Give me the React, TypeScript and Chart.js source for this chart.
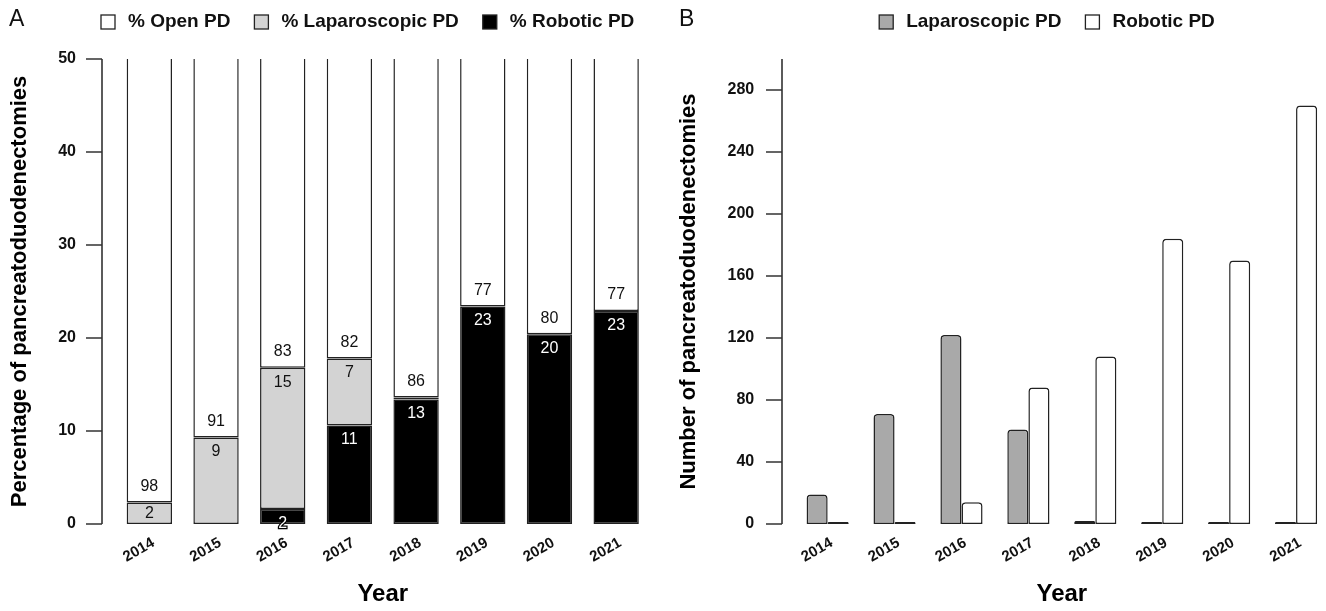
import React, { useEffect, useRef } from "react";
import { Chart, registerables } from "chart.js";

Chart.register(...registerables);

// ---------- data ----------
const years = ["2014", "2015", "2016", "2017", "2018", "2019", "2020", "2021"];

// Panel A: percentage of pancreatoduodenectomies (stacked)
const pctRobotic = [0, 0, 1.6, 10.6, 13.4, 23.4, 20.4, 22.9];
const pctLaparoscopic = [2.3, 9.3, 15.2, 7.2, 0.2, 0, 0, 0];
const pctOpen = [97.7, 90.7, 83.2, 82.2, 86.4, 76.6, 79.6, 77.1];
const labelOpen = [98, 91, 83, 82, 86, 77, 80, 77];
const labelLaparoscopic = [2, 9, 15, 7, null, null, null, null];
const labelRobotic = [null, null, 2, 11, 13, 23, 20, 23];
const legendA = ["% Open PD", "% Laparoscopic PD", "% Robotic PD"];

// Panel B: number of pancreatoduodenectomies
const countLaparoscopic = [19, 71, 122, 61, 2, 0, 0, 0];
const countRobotic = [0, 0, 14, 88, 108, 184, 170, 270];
const legendB = ["Laparoscopic PD", "Robotic PD"];

const FONT = '"Liberation Sans", Arial, Helvetica, sans-serif';
Chart.defaults.font.family = FONT;
Chart.defaults.color = "#111";

// ---------- plugins ----------
const axisLinePlugin = {
  id: "axisLine",
  afterDraw(chart: any, _args: any, opts: any) {
    const y = chart.scales.y;
    const ctx = chart.ctx;
    const x0 = chart.chartArea.left - opts.gap;
    ctx.save();
    ctx.strokeStyle = "#333";
    ctx.lineWidth = 1.6;
    ctx.beginPath();
    ctx.moveTo(x0, y.getPixelForValue(y.max));
    ctx.lineTo(x0, y.getPixelForValue(y.min));
    y.ticks.forEach((t: any) => {
      const py = y.getPixelForValue(t.value);
      ctx.moveTo(x0 - opts.len, py);
      ctx.lineTo(x0, py);
    });
    ctx.stroke();
    ctx.restore();
  },
};

const valueLabelsPlugin = {
  id: "valueLabels",
  afterDatasetsDraw(chart: any) {
    const ctx = chart.ctx;
    ctx.save();
    ctx.font = `16px ${FONT}`;
    ctx.textAlign = "center";
    ctx.textBaseline = "middle";
    chart.data.datasets.forEach((ds: any, di: number) => {
      const labels = ds.valueLabels;
      if (!labels) return;
      const meta = chart.getDatasetMeta(di);
      meta.data.forEach((el: any, i: number) => {
        const v = labels[i];
        if (v === null || v === undefined) return;
        const { x, y, base } = el.getProps(["x", "y", "base"], true);
        const top = Math.min(y, base);
        const bottom = Math.max(y, base);
        let ty: number;
        if (ds.labelStyle === "open") {
          ty = bottom - 16;
        } else {
          ty = top + 14.5;
          if (ds.labelStyle === "lap") ty = Math.min(ty, (top + bottom) / 2);
        }
        if (ds.labelStyle === "robotic") {
          ctx.lineWidth = 2.5;
          ctx.strokeStyle = "#000";
          ctx.strokeText(String(v), x, ty);
          ctx.fillStyle = "#fff";
        } else {
          ctx.fillStyle = "#111";
        }
        ctx.fillText(String(v), x, ty);
      });
    });
    ctx.restore();
  },
};

const panelLegendPlugin = {
  id: "panelLegend",
  afterDraw(chart: any, _args: any, opts: any) {
    const ctx = chart.ctx;
    ctx.save();
    ctx.textBaseline = "middle";
    ctx.textAlign = "left";
    ctx.fillStyle = "#111";
    ctx.font = `23px ${FONT}`;
    ctx.fillText(opts.letter, opts.letterX, opts.y - 2);
    ctx.font = `bold 19px ${FONT}`;
    let x = chart.chartArea.left + opts.start;
    const sz = 14;
    opts.items.forEach((it: any) => {
      ctx.fillStyle = it.color;
      ctx.fillRect(x, opts.y - sz / 2, sz, sz);
      ctx.strokeStyle = "#222";
      ctx.lineWidth = 1.3;
      ctx.strokeRect(x, opts.y - sz / 2, sz, sz);
      ctx.fillStyle = "#111";
      ctx.fillText(it.text, x + 27, opts.y);
      x += 27 + ctx.measureText(it.text).width + 24;
    });
    ctx.restore();
  },
};

const xTickOpts = {
  font: { size: 15, weight: "bold" },
  color: "#111",
  minRotation: 30,
  maxRotation: 30,
  padding: 10,
  labelOffset: 4,
};

const yearTitle = {
  display: true,
  text: "Year",
  font: { size: 24, weight: "bold" },
  color: "#000",
  padding: { top: 0, bottom: 2 },
};

export default function App() {
  const leftRef = useRef<HTMLCanvasElement>(null);
  const rightRef = useRef<HTMLCanvasElement>(null);

  useEffect(() => {
    const left = new Chart(leftRef.current as HTMLCanvasElement, {
      type: "bar",
      data: {
        labels: years,
        datasets: [
          {
            label: legendA[2],
            data: pctRobotic,
            backgroundColor: "#000",
            borderColor: "#222",
            borderWidth: 1.5,
            valueLabels: labelRobotic,
            labelStyle: "robotic",
          } as any,
          {
            label: legendA[1],
            data: pctLaparoscopic,
            backgroundColor: "#d3d3d3",
            borderColor: "#222",
            borderWidth: 1.5,
            valueLabels: labelLaparoscopic,
            labelStyle: "lap",
          } as any,
          {
            label: legendA[0],
            data: pctOpen,
            backgroundColor: "#fff",
            borderColor: "#222",
            borderWidth: 1.5,
            valueLabels: labelOpen,
            labelStyle: "open",
          } as any,
        ],
      },
      options: {
        responsive: false,
        animation: false,
        layout: { padding: { top: 59, right: 10.5, left: 0, bottom: 0 } },
        datasets: {
          bar: { categoryPercentage: 0.68, barPercentage: 1, borderSkipped: false },
        },
        plugins: {
          legend: { display: false },
          tooltip: { enabled: false },
          axisLine: { gap: 14, len: 16 },
          panelLegend: {
            letter: "A",
            letterX: 9,
            y: 22,
            start: -15,
            items: [
              { text: legendA[0], color: "#fff" },
              { text: legendA[1], color: "#d3d3d3" },
              { text: legendA[2], color: "#000" },
            ],
          },
        } as any,
        scales: {
          x: {
            stacked: true,
            grid: { display: false, drawTicks: false },
            border: { display: false },
            ticks: xTickOpts,
            title: yearTitle,
            afterFit: (s: any) => {
              s.height = 87;
            },
          },
          y: {
            stacked: true,
            min: 0,
            max: 50,
            grid: { display: false, drawTicks: false },
            border: { display: false },
            ticks: { stepSize: 10, font: { size: 16, weight: "bold" }, padding: 40, color: "#111" },
            title: {
              display: true,
              text: "Percentage of pancreatoduodenectomies",
              font: { size: 22, weight: "bold" },
              color: "#000",
              padding: { top: 7, bottom: 0 },
            },
            afterFit: (s: any) => {
              s.width = 116;
            },
          },
        },
      } as any,
      plugins: [axisLinePlugin, valueLabelsPlugin, panelLegendPlugin],
    });

    const right = new Chart(rightRef.current as HTMLCanvasElement, {
      type: "bar",
      data: {
        labels: years,
        datasets: [
          {
            label: legendB[0],
            data: countLaparoscopic,
            backgroundColor: "#a9a9a9",
            borderColor: "#222",
            borderWidth: 1.5,
          },
          {
            label: legendB[1],
            data: countRobotic,
            backgroundColor: "#fff",
            borderColor: "#222",
            borderWidth: 1.5,
          },
        ],
      },
      options: {
        responsive: false,
        animation: false,
        layout: { padding: { top: 59, right: 10.5, left: 0, bottom: 0 } },
        datasets: {
          bar: {
            categoryPercentage: 0.63,
            barPercentage: 1,
            borderSkipped: false,
            borderRadius: { topLeft: 4, topRight: 4, bottomLeft: 0, bottomRight: 0 },
            minBarLength: 2,
            clip: false,
          },
        },
        plugins: {
          legend: { display: false },
          tooltip: { enabled: false },
          axisLine: { gap: 12.2, len: 16 },
          panelLegend: {
            letter: "B",
            letterX: 19,
            y: 22,
            start: 85,
            items: [
              { text: legendB[0], color: "#a9a9a9" },
              { text: legendB[1], color: "#fff" },
            ],
          },
        } as any,
        scales: {
          x: {
            grid: { display: false, drawTicks: false },
            border: { display: false },
            ticks: xTickOpts,
            title: yearTitle,
            afterFit: (s: any) => {
              s.height = 87;
            },
          },
          y: {
            min: 0,
            max: 300,
            grid: { display: false, drawTicks: false },
            border: { display: false },
            ticks: { stepSize: 40, font: { size: 16, weight: "bold" }, padding: 40, color: "#111" },
            afterBuildTicks: (s: any) => {
              s.ticks = s.ticks.filter((t: any) => t.value <= 280);
            },
            title: {
              display: true,
              text: "Number of pancreatoduodenectomies",
              font: { size: 22, weight: "bold" },
              color: "#000",
              padding: { top: 16, bottom: 0 },
            },
            afterFit: (s: any) => {
              s.width = 134.2;
            },
          },
        },
      } as any,
      plugins: [axisLinePlugin, panelLegendPlugin],
    });

    return () => {
      left.destroy();
      right.destroy();
    };
  }, []);

  return (
    <div
      style={{
        position: "absolute",
        left: 0,
        top: 0,
        width: 1326,
        height: 611,
        overflow: "hidden",
        background: "#fff",
      }}
    >
      <canvas ref={leftRef} width={660} height={611} style={{ position: "absolute", left: 0, top: 0 }} />
      <canvas ref={rightRef} width={680} height={611} style={{ position: "absolute", left: 660, top: 0 }} />
    </div>
  );
}
